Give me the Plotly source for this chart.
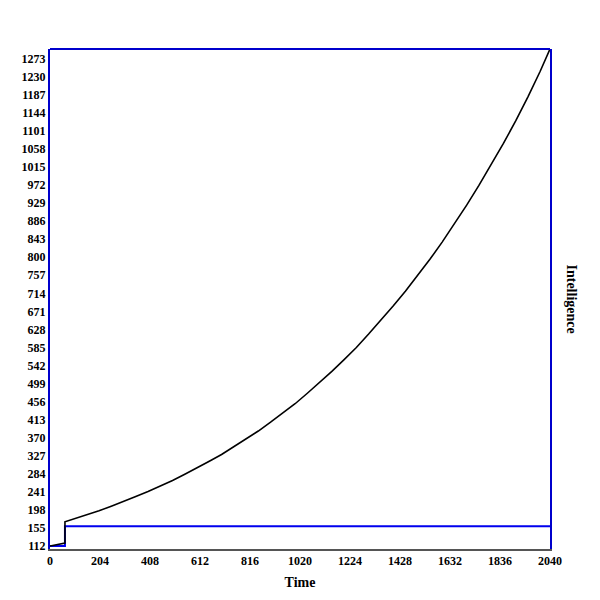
import plotly.graph_objects as go

# readings
time_pts = [0, 61, 61, 100, 150, 200, 250, 300, 350, 400, 450, 500, 550, 600,
            650, 700, 750, 800, 850, 900, 950, 1000, 1050, 1100, 1150, 1200,
            1250, 1300, 1350, 1400, 1450, 1500, 1550, 1600, 1650, 1700, 1750,
            1800, 1850, 1900, 1950, 2000, 2040]
intelligence = [112, 119, 170, 177, 186, 196, 207, 218, 230, 242, 255, 268, 283,
                298, 314, 330, 348, 367, 386, 407, 429, 451, 476, 501, 528, 556,
                585, 617, 650, 684, 719, 756, 795, 836, 879, 924, 971, 1020,
                1071, 1125, 1182, 1243, 1296]

base_time = [0, 61, 61, 2040]
base_level = [112, 112, 159, 159]

y_ticks = [112 + 43 * k for k in range(28)]
x_ticks = [204 * k for k in range(11)]

tick_font = dict(family="Liberation Serif", size=12, color="black", weight="bold")

fig = go.Figure()
fig.add_trace(go.Scatter(x=base_time, y=base_level, mode="lines",
                         line=dict(color="#0000ee", width=2), showlegend=False))
fig.add_trace(go.Scatter(x=time_pts, y=intelligence, mode="lines",
                         line=dict(color="black", width=1.6), showlegend=False))

fig.update_layout(
    width=600, height=600,
    margin=dict(l=42, r=58, t=41, b=59),
    paper_bgcolor="white", plot_bgcolor="white",
    font=dict(family="Liberation Serif", size=12, color="black"),
    xaxis=dict(range=[0, 2040], tickvals=x_ticks, showgrid=False, zeroline=False,
               showline=True, linecolor="#555555", linewidth=2, ticks="",
               tickfont=tick_font,
               title=dict(text="<b>Time</b>", font=dict(size=14), standoff=10)),
    yaxis=dict(range=[105, 1296], tickvals=y_ticks, showgrid=False, zeroline=False,
               showline=True, linecolor="#0000cc", linewidth=2, mirror=True,
               ticks="", tickfont=tick_font),
    shapes=[dict(type="line", xref="paper", yref="paper", x0=0, x1=1, y0=1, y1=1,
                 line=dict(color="#0000cc", width=2))],
    annotations=[dict(text="<b>Intelligence</b>", xref="paper", yref="paper",
                      x=1.024, y=0.5, textangle=90, showarrow=False,
                      xanchor="left", yanchor="middle",
                      font=dict(family="Liberation Serif", size=14))],
)

fig.write_html("out.html")
